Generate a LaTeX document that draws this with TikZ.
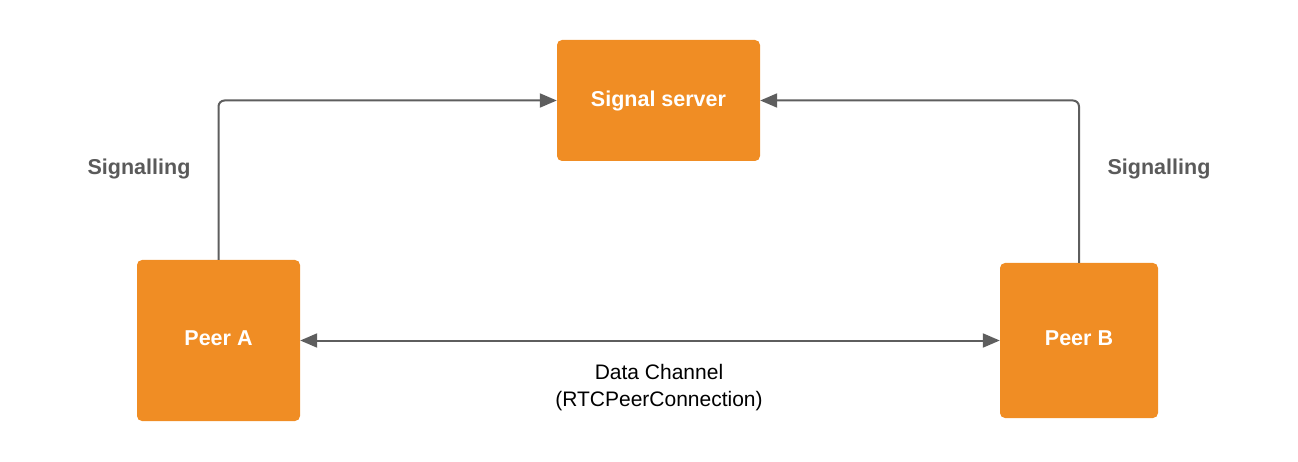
\documentclass[tikz,border=0pt]{standalone}
\usepackage{fontspec}
\setmainfont{Liberation Sans}
\usetikzlibrary{arrows.meta}
\definecolor{boxorange}{HTML}{F08D24}
\definecolor{linegray}{HTML}{5E5E5E}
\definecolor{labelgray}{HTML}{5A5A5A}
\begin{document}
\begin{tikzpicture}[x=1pt,y=-1pt,
  box/.style={fill=boxorange, draw=none, rounded corners=5pt, inner sep=0pt,
    font=\fontsize{21.5}{25}\selectfont\bfseries, text=white},
  conn/.style={draw=linegray, line width=2pt, rounded corners=6pt,
    -{Triangle[length=17pt,width=14pt]}},
  lbl/.style={font=\fontsize{21.5}{25}\selectfont\bfseries, text=labelgray},
  dlbl/.style={font=\fontsize{21}{27}\selectfont, text=black, align=center}]
\useasboundingbox (0,0) rectangle (1298,462);
\node[box, minimum width=203pt, minimum height=121pt] (srv) at (658.5,100.5) {Signal server};
\node[box, minimum width=163pt, minimum height=161pt] (pa) at (218.5,340.5) {};
\node[box, minimum width=158pt, minimum height=155pt] (pb) at (1079,340.5) {};
\node[box, fill=none] (pat) at (218.5,338) {Peer A};
\node[box, fill=none] (pbt) at (1079,338) {Peer B};
\draw[conn] (pa.north) |- (srv.west);
\draw[conn] (pb.north) |- (srv.east);
\draw[draw=linegray, line width=2pt, {Triangle[length=17pt,width=14pt]}-{Triangle[length=17pt,width=14pt]}] (pa.east) -- (pb.west);
\node[lbl] (la) at (139,169) {Signalling};
\node[lbl] (lb) at (1159,169) {Signalling};
\node[dlbl] (dc) at (659,388) {Data Channel\\(RTCPeerConnection)};
\end{tikzpicture}
\end{document}
